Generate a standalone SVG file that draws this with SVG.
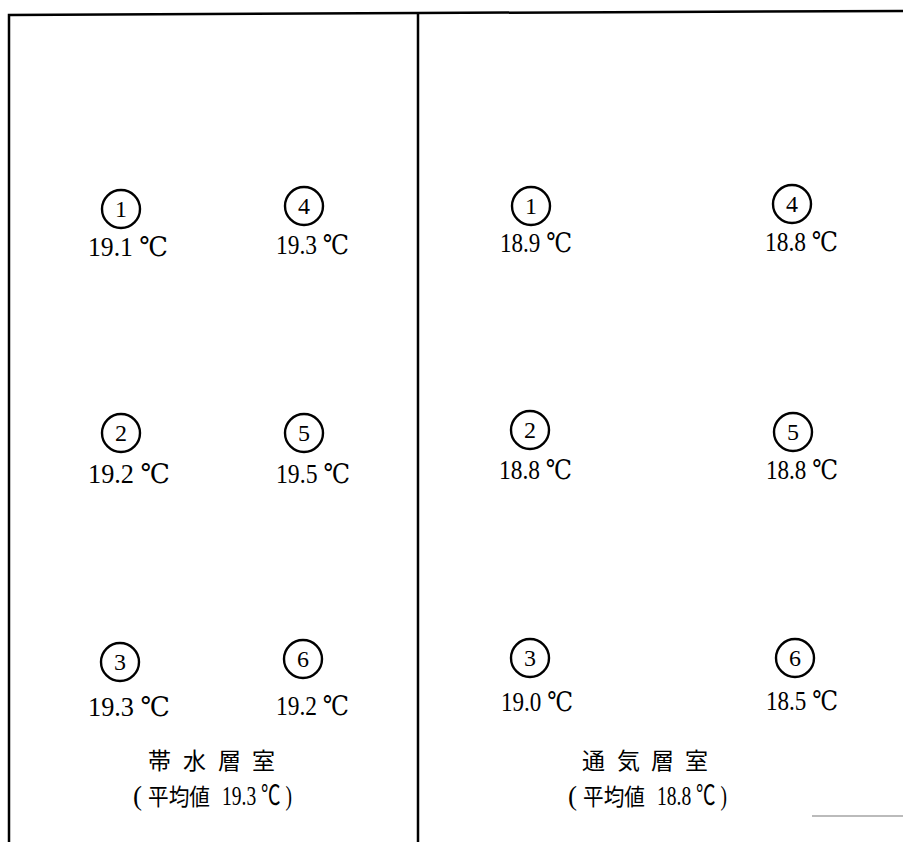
<svg xmlns="http://www.w3.org/2000/svg" width="903" height="842" viewBox="0 0 903 842">
<style>
.frame{fill:none;stroke:#000;stroke-width:2.5}
.c{fill:#fff;stroke:#000;stroke-width:2.4}
.n{font-family:"Liberation Serif","Noto Sans CJK JP",serif;font-size:24px;text-anchor:middle;fill:#000}
.t{font-family:"Liberation Serif","DejaVu Serif","Noto Sans CJK JP",serif;font-size:27px;fill:#000}
.j{font-family:"Noto Sans CJK JP",sans-serif;font-size:23px;fill:#000}
.p{font-family:"Liberation Serif","Noto Sans CJK JP",serif;font-size:27px;fill:#000}
</style>
<g id="frame">
<polyline class="frame" points="9,842 9,15 418,13 903,11"/>
<line class="frame" x1="418" y1="13" x2="418" y2="842"/>
<line x1="812" y1="816" x2="903" y2="816" stroke="#bbb" stroke-width="2"/>
</g>
<g id="connectors"></g>
<g id="L1"><circle class="c" cx="121" cy="209" r="19"/><text class="n" x="121" y="217">1</text><text class="t" x="88" y="256" textLength="80" lengthAdjust="spacingAndGlyphs">19.1 ℃</text></g>
<g id="L4"><circle class="c" cx="304" cy="206" r="19"/><text class="n" x="304" y="214">4</text><text class="t" x="276" y="254" textLength="73" lengthAdjust="spacingAndGlyphs">19.3 ℃</text></g>
<g id="L2"><circle class="c" cx="121" cy="433" r="19"/><text class="n" x="121" y="441">2</text><text class="t" x="88" y="483" textLength="82" lengthAdjust="spacingAndGlyphs">19.2 ℃</text></g>
<g id="L5"><circle class="c" cx="304" cy="433" r="19"/><text class="n" x="304" y="441">5</text><text class="t" x="276" y="483" textLength="74" lengthAdjust="spacingAndGlyphs">19.5 ℃</text></g>
<g id="L3"><circle class="c" cx="120" cy="662" r="19"/><text class="n" x="120" y="670">3</text><text class="t" x="88" y="716" textLength="82" lengthAdjust="spacingAndGlyphs">19.3 ℃</text></g>
<g id="L6"><circle class="c" cx="303" cy="659" r="19"/><text class="n" x="303" y="667">6</text><text class="t" x="276" y="715" textLength="73" lengthAdjust="spacingAndGlyphs">19.2 ℃</text></g>
<g id="Ltitle"><text class="j" x="148 183 218 252" y="769">帯水層室</text><text class="p" x="133" y="805">(</text><text class="j" x="148" y="805" textLength="62" lengthAdjust="spacingAndGlyphs">平均値</text><text class="p" x="222" y="805" textLength="70" lengthAdjust="spacingAndGlyphs">19.3 ℃ )</text></g>
<g id="R1"><circle class="c" cx="531" cy="206" r="19"/><text class="n" x="531" y="214">1</text><text class="t" x="500" y="252" textLength="72" lengthAdjust="spacingAndGlyphs">18.9 ℃</text></g>
<g id="R4"><circle class="c" cx="792" cy="204" r="19"/><text class="n" x="792" y="212">4</text><text class="t" x="765" y="251" textLength="73" lengthAdjust="spacingAndGlyphs">18.8 ℃</text></g>
<g id="R2"><circle class="c" cx="530" cy="430" r="19"/><text class="n" x="530" y="438">2</text><text class="t" x="499" y="479" textLength="73" lengthAdjust="spacingAndGlyphs">18.8 ℃</text></g>
<g id="R5"><circle class="c" cx="793" cy="432" r="19"/><text class="n" x="793" y="440">5</text><text class="t" x="766" y="479" textLength="72" lengthAdjust="spacingAndGlyphs">18.8 ℃</text></g>
<g id="R3"><circle class="c" cx="530" cy="658" r="19"/><text class="n" x="530" y="666">3</text><text class="t" x="501" y="711" textLength="72" lengthAdjust="spacingAndGlyphs">19.0 ℃</text></g>
<g id="R6"><circle class="c" cx="795" cy="658" r="19"/><text class="n" x="795" y="666">6</text><text class="t" x="766" y="710" textLength="72" lengthAdjust="spacingAndGlyphs">18.5 ℃</text></g>
<g id="Rtitle"><text class="j" x="582 617 651 685" y="769">通気層室</text><text class="p" x="568" y="805">(</text><text class="j" x="583" y="805" textLength="62" lengthAdjust="spacingAndGlyphs">平均値</text><text class="p" x="657" y="805" textLength="70" lengthAdjust="spacingAndGlyphs">18.8 ℃ )</text></g>
</svg>
